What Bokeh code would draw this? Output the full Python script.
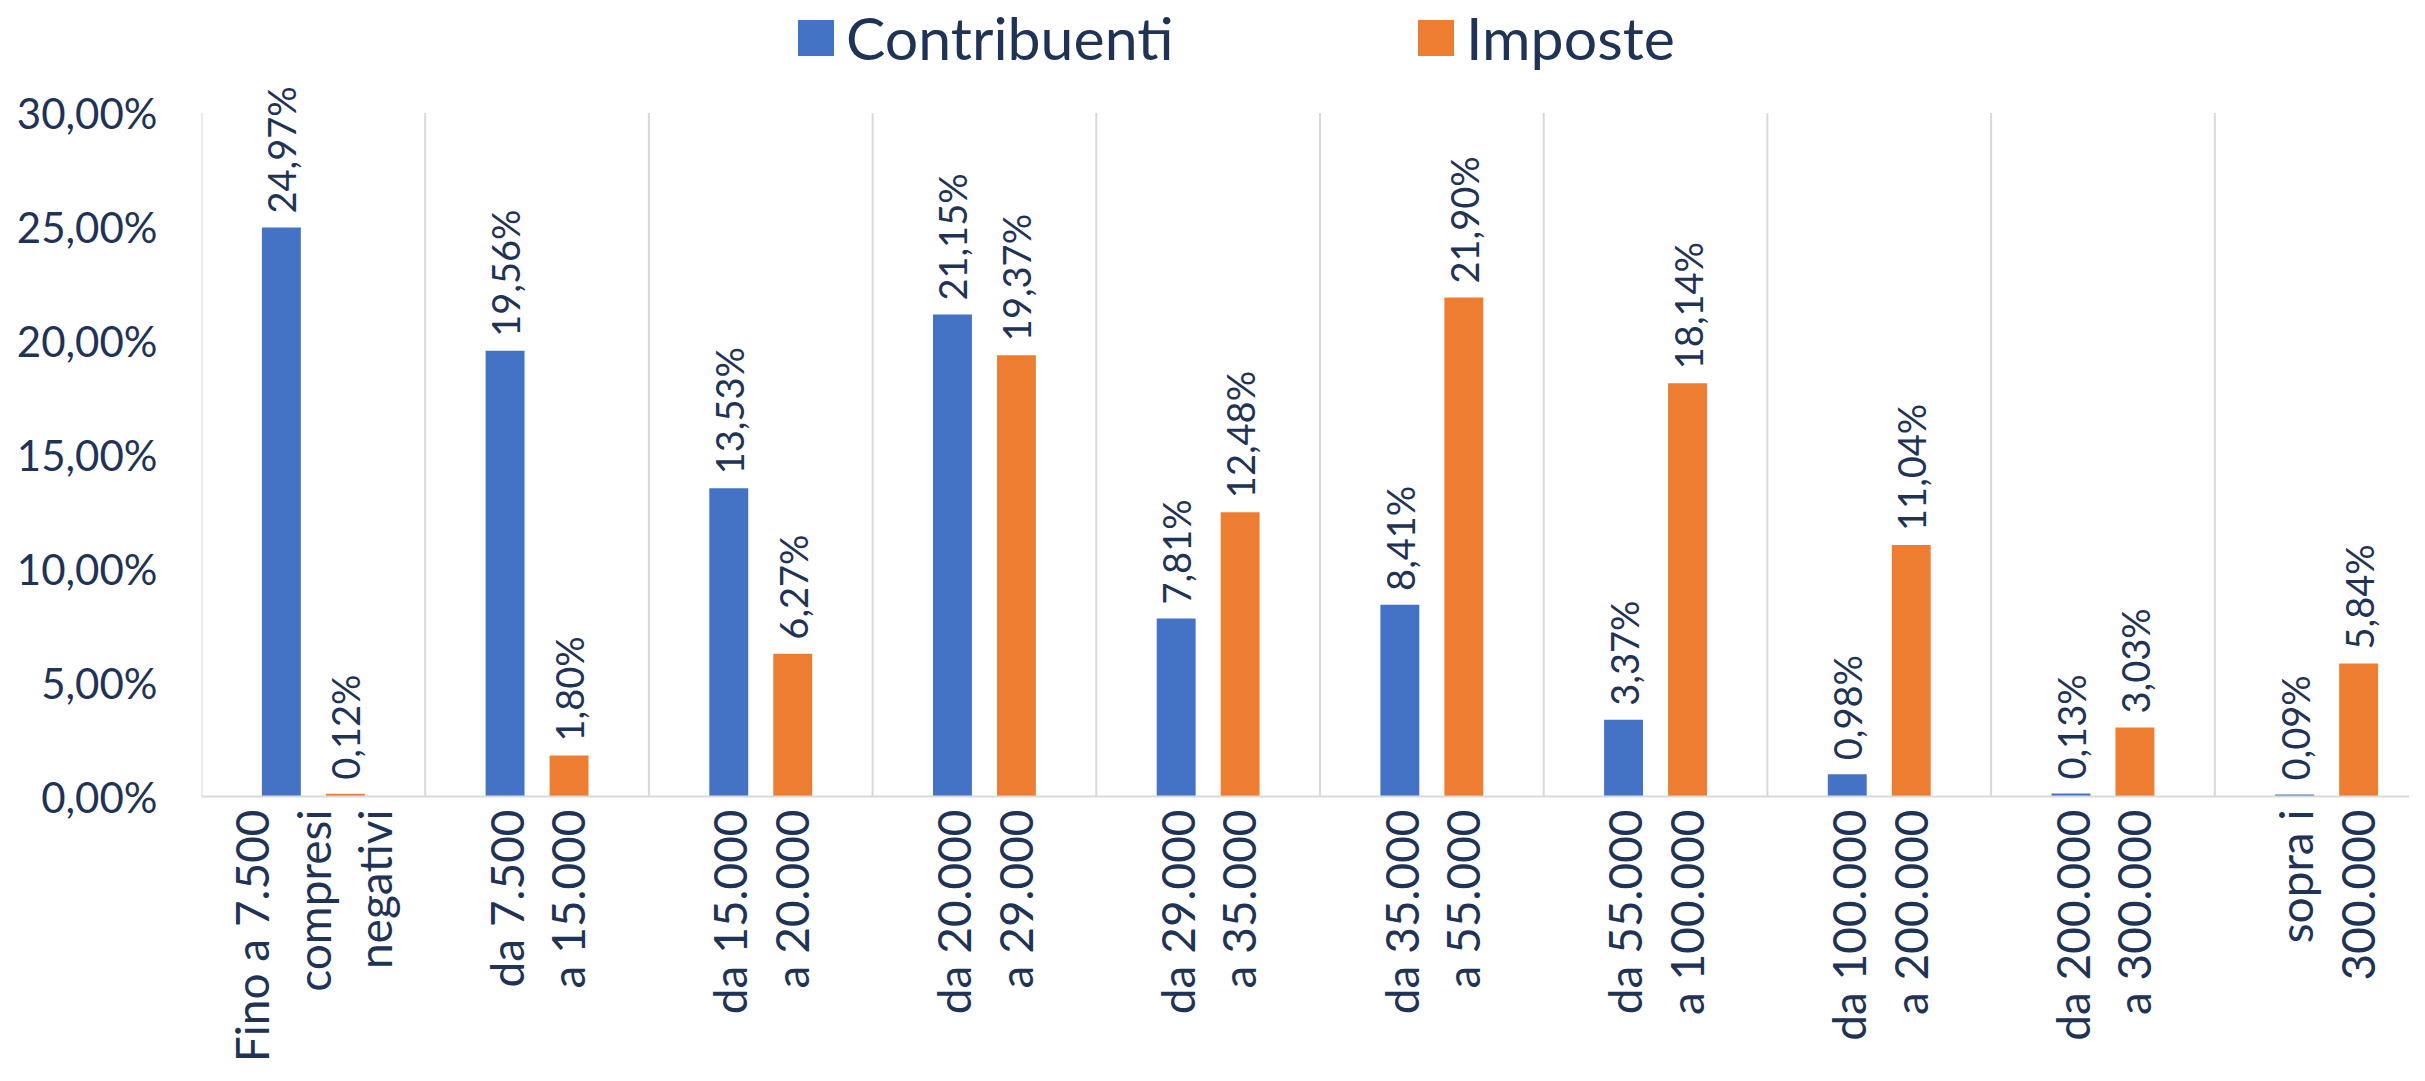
import math
from bokeh.plotting import figure
from bokeh.models import (ColumnDataSource, FixedTicker, Range1d, LabelSet,
                          Legend, LegendItem)
from bokeh.embed import file_html
from bokeh.resources import INLINE
from bokeh.core.properties import value

# ---------------- data ----------------
categories = [
    "Fino a 7.500\ncompresi\nnegativi",
    "da 7.500\na 15.000",
    "da 15.000\na 20.000",
    "da 20.000\na 29.000",
    "da 29.000\na 35.000",
    "da 35.000\na 55.000",
    "da 55.000\na 100.000",
    "da 100.000\na 200.000",
    "da 200.000\na 300.000",
    "sopra i\n300.000",
]
contribuenti = [24.97, 19.56, 13.53, 21.15, 7.81, 8.41, 3.37, 0.98, 0.13, 0.09]
imposte = [0.12, 1.80, 6.27, 19.37, 12.48, 21.90, 18.14, 11.04, 3.03, 5.84]
y_ticks = [0, 5, 10, 15, 20, 25, 30]
series_names = ["Contribuenti", "Imposte"]

# ---------------- style ----------------
FONT = "Lato"
TXT = "#1F3356"
BLUE = "#4472C4"
ORANGE = "#ED7D31"
GRID = "#D9D9D9"

W, H = 2409, 1065
FL, FB, FR = 201, 265, 0
TOP_PX = 113                      # pixel position of the 30% line inside the figure
CAT_W = 223.7
x_end = (W - FL - FR) / CAT_W
frame_h = H - FB
y_max = y_ticks[-1]
y_end = y_max * frame_h / (frame_h - TOP_PX)
BAR_W = 0.174
OFF = 0.143


def pct(v):
    return f"{v:.2f}".replace(".", ",") + "%"


n = len(categories)
centers = [i + 0.5 for i in range(n)]
xb = [c - OFF for c in centers]
xo = [c + OFF for c in centers]
bounds = list(range(n + 1))

src_b = ColumnDataSource(dict(x=xb, top=contribuenti, lab=[pct(v) for v in contribuenti]))
src_o = ColumnDataSource(dict(x=xo, top=imposte, lab=[pct(v) for v in imposte]))

p = figure(width=W, height=H, output_backend="svg", toolbar_location=None,
           x_range=Range1d(0, x_end), y_range=Range1d(0, y_end),
           min_border_left=FL, min_border_top=0, min_border_bottom=FB,
           min_border_right=FR)
p.outline_line_color = None
p.background_fill_color = "white"
p.border_fill_color = "white"
p.xgrid.visible = False
p.ygrid.visible = False

# category boundary lines (0% .. 30%)
p.segment(x0=bounds, y0=[0] * len(bounds), x1=bounds, y1=[y_max] * len(bounds),
          line_color=GRID, line_width=2)

rb = p.vbar(x="x", top="top", width=BAR_W, source=src_b, fill_color=BLUE, line_color=None)
ro = p.vbar(x="x", top="top", width=BAR_W, source=src_o, fill_color=ORANGE, line_color=None)

# x axis
p.xaxis.ticker = FixedTicker(ticks=centers)
p.xaxis.major_label_overrides = {c: lab for c, lab in zip(centers, categories)}
p.xaxis.major_label_orientation = math.pi / 2
p.xaxis.major_label_text_font = FONT
p.xaxis.major_label_text_font_size = "46px"
p.xaxis.major_label_text_color = TXT
p.xaxis.major_label_text_line_height = 1.12
p.xaxis.major_label_standoff = 13
p.xaxis.major_tick_line_color = None
p.xaxis.major_tick_out = 0
p.xaxis.major_tick_in = 0
p.xaxis.minor_tick_line_color = None
p.xaxis.axis_line_color = GRID
p.xaxis.axis_line_width = 2

# y axis
p.yaxis.ticker = FixedTicker(ticks=y_ticks)
p.yaxis.major_label_overrides = {t: pct(t) for t in y_ticks}
p.yaxis.major_label_text_font = FONT
p.yaxis.major_label_text_font_size = "42px"
p.yaxis.major_label_text_color = TXT
p.yaxis.major_label_standoff = 44
p.yaxis.major_tick_line_color = None
p.yaxis.major_tick_out = 0
p.yaxis.major_tick_in = 0
p.yaxis.minor_tick_line_color = None
p.yaxis.axis_line_color = None

# data labels
for s in (src_b, src_o):
    p.add_layout(LabelSet(x="x", y="top", text="lab", source=s, angle=math.pi / 2,
                          x_offset=0, y_offset=14, text_align="left",
                          text_baseline="middle", text_font=value(FONT),
                          text_font_size="38px", text_color=TXT))

# legends (two single-item legends, placed at the top of the figure)
for r, name, lx in ((rb, series_names[0], 592), (ro, series_names[1], 1212)):
    lg = Legend(items=[LegendItem(label=name, renderers=[r])], location=(lx, 723),
                orientation="horizontal", padding=0, margin=0, border_line_color=None,
                background_fill_alpha=0, glyph_width=45, glyph_height=45,
                label_standoff=8, label_text_font=FONT, label_text_font_size="59px",
                label_text_color=TXT)
    p.add_layout(lg, "center")

open("out.html", "w").write(file_html(p, INLINE))
